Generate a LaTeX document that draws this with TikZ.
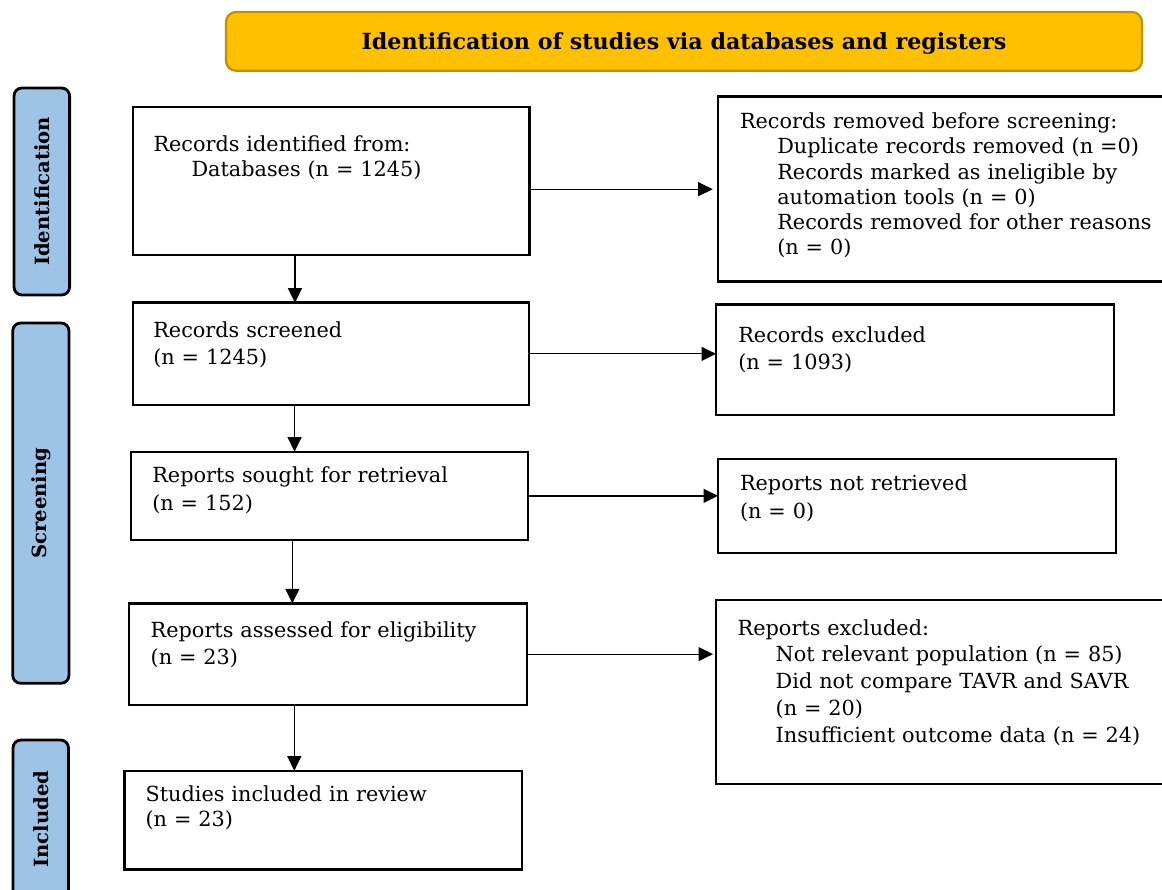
\documentclass[tikz,border=0pt]{standalone}
\usepackage{fontspec}
\setmainfont{DejaVu Serif}
\usetikzlibrary{arrows.meta,fit,calc}
\tikzset{
  box/.style={draw=black, line width=2.4pt, inner sep=0pt, outer sep=0pt},
  sidebox/.style={draw=black, line width=2.8pt, fill=sideblue, rounded corners=8pt, inner sep=0pt, outer sep=0pt},
  titlebox/.style={draw=titleedge, line width=2.2pt, fill=titlegold, rounded corners=10pt, inner sep=0pt, outer sep=0pt},
  txt/.style={anchor=base west, inner sep=0pt, outer sep=0pt, text width=430pt, align=left,
              font=\fontsize{20.8}{#1}\selectfont},
  txt/.default={25.5},
  sidetxt/.style={rotate=90, inner sep=0pt, font=\fontsize{19.6}{22}\selectfont\bfseries},
  arr/.style={line width=1.3pt, -{Triangle[length=14.5pt,width=14pt]}},
}
\definecolor{titlegold}{HTML}{FFC000}
\definecolor{titleedge}{HTML}{BF9000}
\definecolor{sideblue}{HTML}{9DC3E6}
\begin{document}
\begin{tikzpicture}[x=1pt,y=-1pt]
\clip (0,0) rectangle (1162,890);
\fill[white] (0,0) rectangle (1162,890);
% title
\node[titlebox, fit={(226,12) (1142,70.7)}] (title) {};
\node[anchor=base, inner sep=0pt, font=\fontsize{22.2}{26}\selectfont\bfseries] (titletext) at (684,50) {Identification of studies via databases and registers};
% side labels
\node[sidebox, fit={(14,88) (69.6,295)}] (lab1) {};
\node[sidebox, fit={(12.7,323) (69,683.3)}] (lab2) {};
\node[sidebox, fit={(13,740) (68.5,910)}] (lab3) {};
\node[sidetxt] (lab1t) at (lab1.center) {Identification};
\node[sidetxt] (lab2t) at (lab2.center) {Screening};
\coordinate (lab3c) at (40.7,819);
\node[sidetxt] (lab3t) at (lab3c) {Included};
% left boxes
\node[box, fit={(133,107) (529.5,255.3)}] (b1) {};
\node[box, fit={(132.7,302.7) (529,405)}] (b2) {};
\node[box, fit={(130.7,451.7) (528,540)}] (b3) {};
\node[box, fit={(128.9,603.3) (526.7,705)}] (b4) {};
\node[box, fit={(124.4,770.7) (522,869.3)}] (b5) {};
% right boxes
\node[box, fit={(717.7,96.7) (1180,281.7)}] (r1) {};
\node[box, fit={(716,304.7) (1114,415)}] (r2) {};
\node[box, fit={(718,459) (1116,553)}] (r3) {};
\node[box, fit={(716,600) (1180,784)}] (r4) {};
% texts
\node[txt={25}] (t1) at (153.5,151.7) {Records identified from:\\\hspace*{38pt}Databases (n = 1245)};
\node[txt={27}] (t2) at (153.3,337.3) {Records screened\\(n = 1245)};
\node[txt={27.3}] (t3) at (152.3,482.7) {Reports sought for retrieval\\(n = 152)};
\node[txt={27}] (t4) at (150.7,637.3) {Reports assessed for eligibility\\(n = 23)};
\node[txt={25}] (t5) at (145.6,801.7) {Studies included in review\\(n = 23)};
\node[txt={25.3}] (s1) at (740,128.5) {Records removed before screening:\\
\hspace*{37.3pt}Duplicate records removed (n =0)\\
\hspace*{37.3pt}Records marked as ineligible by\\
\hspace*{37.3pt}automation tools (n = 0)\\
\hspace*{37.3pt}Records removed for other reasons\\
\hspace*{37.3pt}(n = 0)};
\node[txt={27.7}] (s2) at (738.3,342.3) {Records excluded\\(n = 1093)};
\node[txt={28}] (s3) at (740,490.7) {Reports not retrieved\\(n = 0)};
\node[txt={26.75}] (s4) at (737.7,635) {Reports excluded:\\
\hspace*{38pt}Not relevant population (n = 85)\\
\hspace*{38pt}Did not compare TAVR and SAVR\\
\hspace*{38pt}(n = 20)\\
\hspace*{38pt}Insufficient outcome data (n = 24)};
% vertical arrows
\draw[arr] ([xshift=-36.3pt]b1.south) -- ([xshift=-36.3pt]b1.south |- b2.north);
\draw[arr] ([xshift=-36.3pt]b2.south) -- ([xshift=-36.3pt]b2.south |- b3.north);
\draw[arr] ([xshift=-37pt]b3.south) -- ([xshift=-37pt]b3.south |- b4.north);
\draw[arr] ([xshift=-33.5pt]b4.south) -- ([xshift=-33.5pt]b4.south |- b5.north);
% horizontal arrows
\draw[arr] (b1.east |- r1.west) -- ([xshift=-5pt]r1.west);
\draw[arr] (b2.east) -- (b2.east -| r2.west);
\draw[arr] (b3.east) -- (b3.east -| r3.west);
\draw[arr] (b4.east) -- ([xshift=-3pt]b4.east -| r4.west);
\end{tikzpicture}
\end{document}
